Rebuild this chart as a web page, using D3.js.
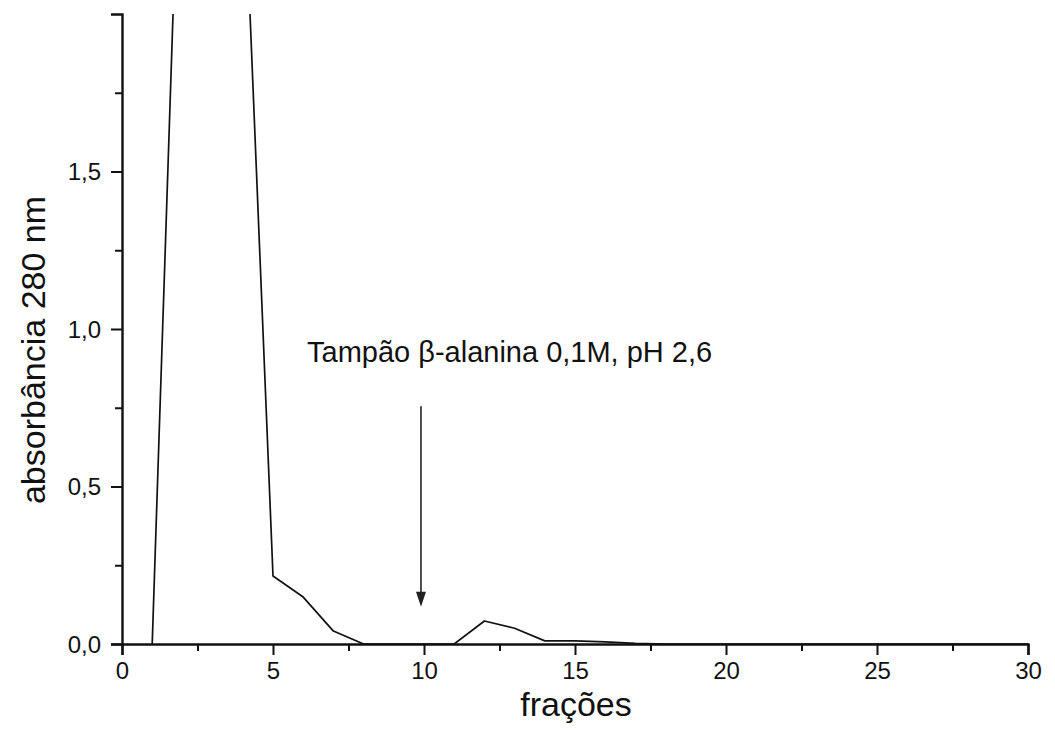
<!DOCTYPE html>
<html>
<head>
<meta charset="utf-8">
<script src="https://cdn.jsdelivr.net/npm/d3@7"></script>
<style>
  html, body { margin: 0; padding: 0; background: #fff; }
  svg { display: block; font-family: "Liberation Sans", Arial, sans-serif; }
</style>
</head>
<body>
<svg id="chart" width="1055" height="748"></svg>
<script>
// Elution profile: absorbance at 280 nm per collected fraction
const fractions  = [1, 2, 3, 4, 5, 6, 7, 8, 9, 10, 11, 12, 13, 14, 15, 16, 17, 18, 19, 20, 21, 22, 23, 24, 25, 26, 27, 28, 29, 30];
const absorbance = [0, 2.9, 3.2, 2.56, 0.216, 0.149, 0.041, 0, 0, 0, 0, 0.073, 0.05, 0.01, 0.01, 0.007, 0.002, 0, 0, 0, 0, 0, 0, 0, 0, 0, 0, 0, 0, 0];

const xMajorTicks = [0, 5, 10, 15, 20, 25, 30];
const xMinorTicks = [2.5, 7.5, 12.5, 17.5, 22.5, 27.5];
const yMajorTicks = [0, 0.5, 1.0, 1.5];
const yMinorTicks = [0.25, 0.75, 1.25, 1.75];

const bufferLabel = "Tampão β-alanina 0,1M, pH 2,6";
const bufferFraction = 9.9;

const svg = d3.select("#chart");
const margin = { left: 122, right: 27, top: 14, bottom: 104 };
const W = 1055, H = 748;

const x = d3.scaleLinear().domain([0, 30]).range([margin.left, W - margin.right]);
const y = d3.scaleLinear().domain([0, 2]).range([H - margin.bottom, margin.top]);

const fmt = d => d3.format(".1f")(d).replace(".", ",");

// clip so the main peak runs off the top of the frame
svg.append("defs").append("clipPath").attr("id", "plot-clip")
  .append("rect")
  .attr("x", margin.left).attr("y", margin.top)
  .attr("width", x(30) - x(0)).attr("height", y(0) - y(2));

const line = d3.line().x((d, i) => x(fractions[i])).y(d => y(d));

svg.append("path")
  .datum(absorbance)
  .attr("clip-path", "url(#plot-clip)")
  .attr("fill", "none")
  .attr("stroke", "#111")
  .attr("stroke-width", 1.7)
  .attr("stroke-linejoin", "round")
  .attr("d", line);

// x axis
const gx = svg.append("g").attr("transform", `translate(0,${y(0)})`);
gx.call(d3.axisBottom(x).tickValues(xMajorTicks).tickSize(11).tickPadding(4).tickFormat(d3.format("d")));
gx.append("g").call(d3.axisBottom(x).tickValues(xMinorTicks).tickSize(7).tickFormat(""))
  .select(".domain").remove();

// y axis
const gy = svg.append("g").attr("transform", `translate(${x(0)},0)`);
gy.call(d3.axisLeft(y).tickValues(yMajorTicks).tickSize(11).tickPadding(10).tickFormat(fmt));
gy.append("g").call(d3.axisLeft(y).tickValues(yMinorTicks).tickSize(7).tickFormat(""))
  .select(".domain").remove();

svg.selectAll(".domain").attr("stroke", "#111").attr("stroke-width", 2.4);
svg.selectAll(".tick line").attr("stroke", "#111").attr("stroke-width", 2);
svg.selectAll(".tick text").attr("fill", "#111").attr("font-size", 24)
  .attr("font-family", "'Liberation Sans', Arial, sans-serif");
gx.selectAll(".tick text").attr("dy", "0.85em");
gy.selectAll(".tick text").attr("dy", "0.35em");

// axis titles
svg.append("text")
  .attr("x", (x(0) + x(30)) / 2 + 1).attr("y", 716)
  .attr("text-anchor", "middle")
  .attr("font-size", 34).attr("fill", "#111")
  .text("frações");

svg.append("text")
  .attr("transform", `translate(45,350) rotate(-90)`)
  .attr("text-anchor", "middle")
  .attr("font-size", 34).attr("fill", "#111")
  .text("absorbância 280 nm");

// buffer change annotation: arrow shaft plus filled head
const ax = x(bufferFraction);
const tipY = y(0.118);
svg.append("line")
  .attr("x1", ax).attr("x2", ax)
  .attr("y1", y(0.755)).attr("y2", tipY - 12)
  .attr("stroke", "#222").attr("stroke-width", 1.6);
svg.append("path")
  .attr("d", `M${ax - 5},${tipY - 15} L${ax + 5},${tipY - 15} L${ax},${tipY} Z`)
  .attr("fill", "#222");

svg.append("text")
  .attr("x", 307).attr("y", 362)
  .attr("font-size", 29).attr("fill", "#111")
  .text(bufferLabel);
</script>
</body>
</html>
